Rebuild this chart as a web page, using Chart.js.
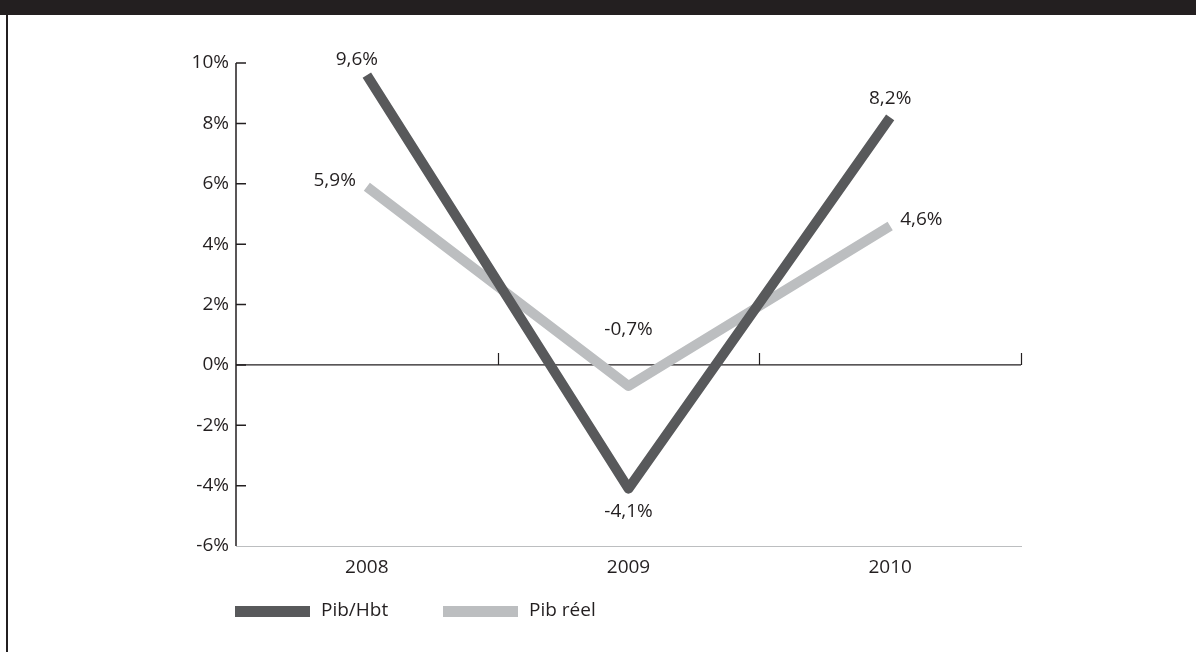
<!DOCTYPE html>
<html>
<head>
<meta charset="utf-8">
<script src="https://cdn.jsdelivr.net/npm/chart.js@4"></script>
<style>
    html, body { margin: 0; padding: 0; background: #fff; }
    #frame { position: relative; width: 1196px; height: 652px; overflow: hidden; }
    #band { position: absolute; left: 0; top: 0; width: 1196px; height: 15px; background: #231f20; }
    #edge { position: absolute; left: 6px; top: 15px; width: 2px; height: 637px; background: #231f20; }
    #myChart { position: absolute; left: 0; top: 0; }
</style>
</head>
<body>
<div id="frame">
    <canvas id="myChart" width="1196" height="652"></canvas>
    <div id="band"></div>
    <div id="edge"></div>
</div>
<script>
const years = ['2008', '2009', '2010'];
const pibHbt = [9.6, -4.1, 8.2];
const pibReel = [5.9, -0.7, 4.6];
const yTicks = [10, 8, 6, 4, 2, 0, -2, -4, -6];

const darkGrey = '#58595b';
const lightGrey = '#bcbec0';
const inkColor = '#231f20';
const fontFamily = '"Open Sans", "Noto Sans", sans-serif';
const fontSize = 19;

// where each value label sits relative to its point: [dx, dy, align]
const labelPlacement = {
    0: [[-10, -15, 'center'], [0, 23, 'center'], [0, -19, 'center']],
    1: [[-11, -6, 'right'], [0, -56, 'center'], [10, -6, 'left']]
};

function formatPct(v) {
    return String(v).replace('.', ',') + '%';
}

// zero line, inward ticks and value labels
const decorations = {
    id: 'decorations',
    beforeDatasetsDraw(chart) {
        const ctx = chart.ctx;
        const x = chart.scales.x;
        const y = chart.scales.y;
        const area = chart.chartArea;
        ctx.save();
        ctx.strokeStyle = inkColor;

        // y axis with ticks pointing into the plot
        ctx.lineWidth = 1.5;
        ctx.beginPath();
        ctx.moveTo(area.left, y.getPixelForValue(10));
        ctx.lineTo(area.left, area.bottom);
        yTicks.forEach(t => {
            if (t === -6) return;
            const py = y.getPixelForValue(t);
            ctx.moveTo(area.left, py);
            ctx.lineTo(area.left + 10, py);
        });
        ctx.stroke();

        // zero line with category separators
        const zy = y.getPixelForValue(0);
        ctx.lineWidth = 1.2;
        ctx.beginPath();
        ctx.moveTo(area.left, zy);
        ctx.lineTo(area.right, zy);
        for (let i = 0; i < years.length; i++) {
            const px = Math.round(x.getPixelForValue(i + 0.5)) + 0.5;
            ctx.moveTo(px, zy);
            ctx.lineTo(px, zy - 12);
        }
        ctx.stroke();
        ctx.restore();
    },
    afterDatasetsDraw(chart) {
        const ctx = chart.ctx;
        ctx.save();
        ctx.fillStyle = inkColor;
        ctx.font = fontSize + 'px ' + fontFamily;
        ctx.textBaseline = 'middle';
        chart.data.datasets.forEach((ds, di) => {
            const meta = chart.getDatasetMeta(di);
            meta.data.forEach((pt, i) => {
                const p = labelPlacement[di][i];
                ctx.textAlign = p[2];
                ctx.fillText(formatPct(ds.data[i]), pt.x + p[0], pt.y + p[1]);
            });
        });

        // legend row under the axis
        const legendY = 611;
        let lx = chart.chartArea.left - 1;
        ctx.textAlign = 'left';
        chart.data.datasets.forEach(ds => {
            ctx.fillStyle = ds.borderColor;
            ctx.fillRect(lx, legendY - 5, 75, 11);
            ctx.fillStyle = inkColor;
            ctx.fillText(ds.label, lx + 86, legendY);
            lx += 208;
        });
        ctx.restore();
    }
};

const ctx = document.getElementById('myChart').getContext('2d');
const chart = new Chart(ctx, {
    type: 'line',
    data: {
        labels: years,
        datasets: [{
            label: 'Pib/Hbt',
            data: pibHbt,
            borderColor: darkGrey,
            borderWidth: 10,
            borderCapStyle: 'butt',
            borderJoinStyle: 'round',
            pointRadius: 0,
            tension: 0
        }, {
            label: 'Pib réel',
            data: pibReel,
            borderColor: lightGrey,
            borderWidth: 10,
            borderCapStyle: 'butt',
            borderJoinStyle: 'round',
            pointRadius: 0,
            tension: 0
        }]
    },
    options: {
        responsive: false,
        animation: false,
        layout: {
            padding: { left: 176, right: 175, top: 63, bottom: 66 }
        },
        plugins: {
            legend: { display: false },
            tooltip: { enabled: false }
        },
        scales: {
            x: {
                offset: true,
                grid: { display: false, drawTicks: false },
                border: { display: true, color: lightGrey, width: 1 },
                ticks: {
                    color: inkColor,
                    font: { family: fontFamily, size: fontSize },
                    padding: 10,
                    maxRotation: 0
                },
                afterFit(scale) { scale.height = 40; }
            },
            y: {
                min: -6,
                max: 10,
                grid: { display: false, drawTicks: false },
                border: { display: false },
                ticks: {
                    stepSize: 2,
                    color: inkColor,
                    font: { family: fontFamily, size: fontSize },
                    padding: 7,
                    callback: v => v + '%'
                },
                afterFit(scale) { scale.width = 60; }
            }
        }
    },
    plugins: [decorations]
});
</script>
</body>
</html>
